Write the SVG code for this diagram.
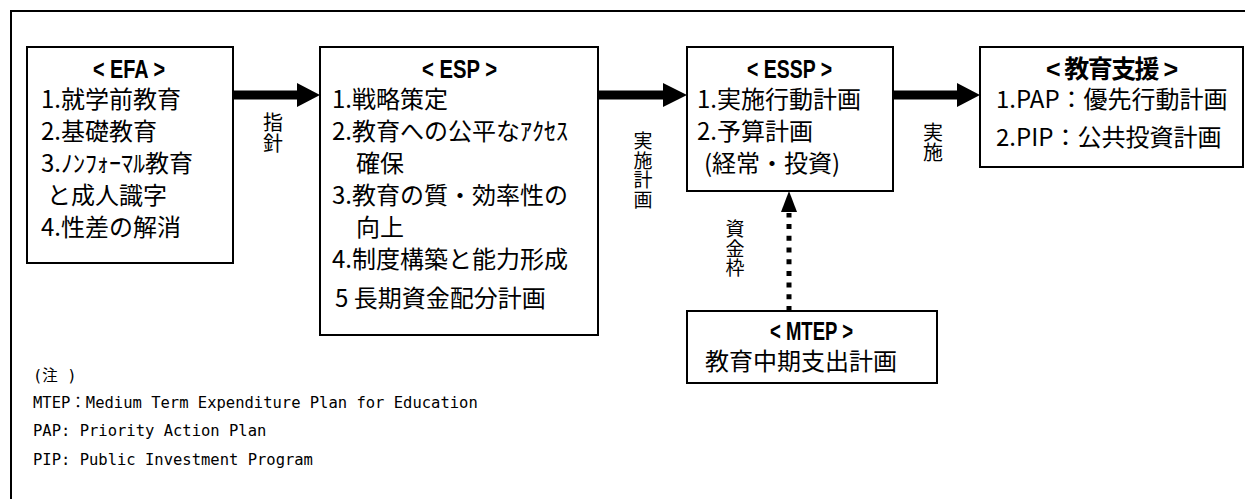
<svg xmlns="http://www.w3.org/2000/svg" width="1245" height="499" viewBox="0 0 1245 499">
<style>
.box{fill:#fff;stroke:#000;stroke-width:2}
.t{font-family:"Noto Sans CJK JP","Noto Sans",sans-serif;font-size:24px;fill:#000}
.h{font-family:"Liberation Sans","Noto Sans CJK JP",sans-serif;font-size:25px;font-weight:bold;fill:#000}
.v{font-family:"Noto Sans CJK JP",sans-serif;font-size:20px;fill:#000;writing-mode:vertical-rl}
.vs{font-size:19px;letter-spacing:0.5px}
.n{font-family:"DejaVu Sans Mono","Noto Sans CJK JP",monospace;font-size:15.5px;fill:#000}
</style>
<rect x="11" y="11" width="1260" height="520" fill="#fff" stroke="#000" stroke-width="2"/>
<g id="connectors">
<path d="M233 90.5H297V83L320 95L297 107V99.5H233Z" fill="#000"/>
<path d="M598 90.5H663V83L687 95L663 107V99.5H598Z" fill="#000"/>
<path d="M893 90.5H957V83L980 95L957 107V99.5H893Z" fill="#000"/>
<line x1="789" y1="311" x2="789" y2="213" stroke="#000" stroke-width="5" stroke-dasharray="5 6.7"/>
<path d="M789 191L797 212H781Z" fill="#000"/>
<text class="v" x="273" y="112" letter-spacing="1">指針</text>
<text class="v vs" x="643" y="131.5">実施計画</text>
<text class="v" x="933" y="122.5">実施</text>
<text class="v vs" x="735" y="219.5">資金枠</text>
</g>
<g id="efa">
<rect class="box" x="27" y="47" width="206" height="216"/>
<text class="h" x="93" y="78" textLength="72" lengthAdjust="spacingAndGlyphs">&lt; EFA &gt;</text>
<text class="t" x="41" y="108">1.就学前教育</text>
<text class="t" x="41" y="140">2.基礎教育</text>
<text class="t" x="41" y="172">3.ﾉﾝﾌｫｰﾏﾙ教育</text>
<text class="t" x="47" y="204">と成人識字</text>
<text class="t" x="41" y="236">4.性差の解消</text>
</g>
<g id="esp">
<rect class="box" x="320" y="47" width="278" height="288"/>
<text class="h" x="422" y="78" textLength="75" lengthAdjust="spacingAndGlyphs">&lt; ESP &gt;</text>
<text class="t" x="332" y="108">1.戦略策定</text>
<text class="t" x="332" y="140">2.教育への公平なｱｸｾｽ</text>
<text class="t" x="356" y="172">確保</text>
<text class="t" x="332" y="204">3.教育の質・効率性の</text>
<text class="t" x="356" y="236">向上</text>
<text class="t" x="332" y="268">4.制度構築と能力形成</text>
<text class="t" x="335" y="307">5 長期資金配分計画</text>
</g>
<g id="essp">
<rect class="box" x="687" y="47" width="206" height="144"/>
<text class="h" x="747" y="78" textLength="85" lengthAdjust="spacingAndGlyphs">&lt; ESSP &gt;</text>
<text class="t" x="697" y="108">1.実施行動計画</text>
<text class="t" x="697" y="140">2.予算計画</text>
<text class="t" x="704" y="172">(経常・投資)</text>
</g>
<g id="support">
<rect class="box" x="980" y="47" width="263" height="120"/>
<text class="h" x="1046" y="78" font-size="23" textLength="132">&lt; 教育支援 &gt;</text>
<text class="t" x="996" y="108">1.PAP：優先行動計画</text>
<text class="t" x="996" y="146">2.PIP：公共投資計画</text>
</g>
<g id="mtep">
<rect class="box" x="687" y="311" width="250" height="72"/>
<text class="h" x="770" y="340" textLength="83" lengthAdjust="spacingAndGlyphs">&lt; MTEP &gt;</text>
<text class="t" x="705" y="370">教育中期支出計画</text>
</g>
<g id="notes">
<text class="n" x="33" y="381">(注 )</text>
<text class="n" x="33" y="408">MTEP：Medium Term Expenditure Plan for Education</text>
<text class="n" x="33" y="436">PAP: Priority Action Plan</text>
<text class="n" x="33" y="465">PIP: Public Investment Program</text>
</g>
</svg>
